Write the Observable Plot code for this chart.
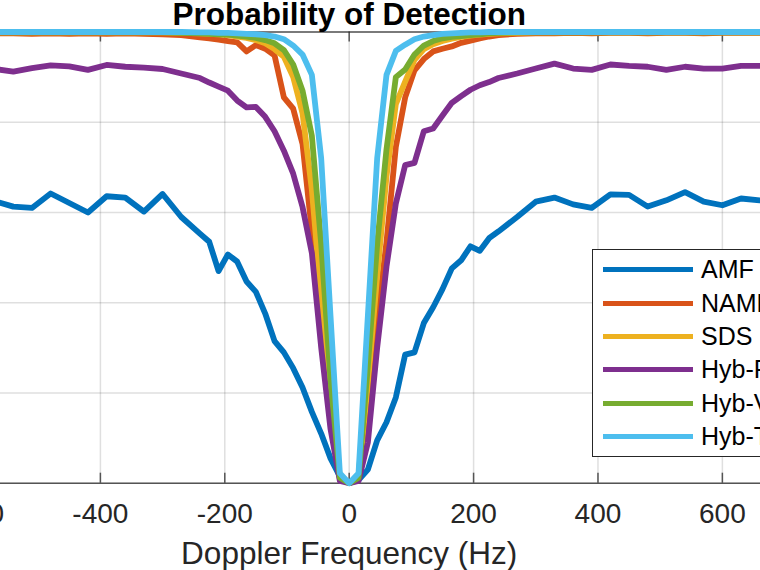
<!DOCTYPE html>
<html>
<head>
<meta charset="utf-8">
<script src="https://cdn.jsdelivr.net/npm/d3@7"></script>
<script src="https://cdn.jsdelivr.net/npm/@observablehq/plot@0.6"></script>
<style>
  body { margin: 0; background: #fff; }
  #chart { position: relative; width: 760px; height: 570px; overflow: hidden;
           font-family: "Liberation Sans", Arial, Helvetica, sans-serif; }
  #legend { position: absolute; left: 592px; top: 249px; width: 240px; height: 208px;
            box-sizing: border-box; border: 1.3px solid #262626; background: #fff; padding-top: 3px; }
  .row { display: flex; align-items: center; height: 33.4px; }
  .swatch { margin-left: 10px; width: 90px; height: 5px; flex: none; }
  .label { margin-left: 8px; font-size: 25px; line-height: 1; color: #000; white-space: nowrap; }
</style>
</head>
<body>
<div id="chart"></div>
<script>
// Doppler frequency grid (Hz)
const freqs = [-570,-540,-510,-480,-450,-420,-390,-360,-330,-300,-270,-240,
  -225,-210,-195,-180,-165,-150,-135,-120,-105,-90,-75,-60,-45,-30,-15,
  0,
  15,30,45,60,75,90,105,120,135,150,165,180,195,210,225,
  240,270,300,330,360,390,420,450,480,510,540,570,600,630,660,690];

// Probability of detection per detector
const amf = [0.625,0.613,0.610,0.642,0.621,0.600,0.636,0.633,0.602,0.641,0.590,0.553,
  0.535,0.470,0.507,0.491,0.447,0.424,0.376,0.315,0.290,0.255,0.212,0.158,0.110,0.055,0.015,
  0,
  0.007,0.030,0.095,0.135,0.190,0.285,0.290,0.355,0.390,0.430,0.476,0.494,0.525,0.515,0.543,
  0.558,0.590,0.624,0.633,0.618,0.610,0.640,0.639,0.613,0.627,0.645,0.624,0.616,0.631,0.627,0.628];

const namf = [0.997,0.997,0.996,0.997,0.996,0.997,0.996,0.997,0.996,0.995,0.993,0.988,
  0.986,0.983,0.980,0.977,0.957,0.971,0.963,0.948,0.855,0.830,0.752,0.558,0.360,0.160,0.010,
  0,
  0.010,0.180,0.360,0.535,0.745,0.855,0.915,0.940,0.957,0.963,0.968,0.976,0.981,0.986,0.990,
  0.993,0.996,0.997,0.997,0.998,0.997,0.998,0.998,0.997,0.998,0.998,0.997,0.998,0.998,0.998,0.998];

const sds = [0.999,0.999,0.999,0.999,0.999,0.999,0.999,0.999,0.999,0.999,0.998,0.997,
  0.996,0.995,0.993,0.990,0.987,0.982,0.975,0.962,0.945,0.900,0.820,0.650,0.410,0.190,0.010,
  0,
  0.010,0.220,0.460,0.680,0.840,0.890,0.938,0.962,0.973,0.980,0.985,0.989,0.992,0.994,0.996,
  0.997,0.998,0.999,0.999,0.999,0.999,0.999,0.999,0.999,0.999,0.999,0.999,0.999,0.999,0.999,0.999];

const hybP = [0.918,0.912,0.920,0.926,0.924,0.916,0.927,0.923,0.921,0.918,0.908,0.898,
  0.888,0.879,0.870,0.848,0.833,0.834,0.812,0.780,0.737,0.686,0.612,0.510,0.300,0.120,0.005,
  0,
  0.005,0.090,0.300,0.480,0.620,0.705,0.710,0.780,0.786,0.815,0.843,0.858,0.872,0.882,0.889,
  0.898,0.908,0.919,0.930,0.919,0.916,0.928,0.925,0.923,0.916,0.923,0.919,0.919,0.925,0.925,0.925];

const hybV = [0.999,0.999,0.999,0.999,0.999,0.999,0.999,0.999,0.999,0.999,0.998,0.997,
  0.996,0.995,0.994,0.992,0.990,0.987,0.982,0.975,0.960,0.928,0.870,0.770,0.530,0.230,0.012,
  0,
  0.012,0.260,0.530,0.740,0.900,0.917,0.950,0.970,0.980,0.986,0.989,0.991,0.993,0.995,0.997,
  0.998,0.999,0.999,0.999,0.999,0.999,0.999,0.999,0.999,0.999,0.999,0.999,0.999,0.999,0.999,0.999];

const hybT = [1,1,1,1,1,1,1,1,1,1,1,0.999,
  0.999,0.998,0.998,0.997,0.996,0.995,0.993,0.990,0.984,0.970,0.950,0.905,0.720,0.370,0.022,
  0,
  0.022,0.370,0.720,0.905,0.958,0.972,0.984,0.990,0.993,0.996,0.997,0.998,0.999,0.999,1,
  1,1,1,1,1,1,1,1,1,1,1,1,1,1,1,1];

const seriesNames = ["AMF", "NAMF", "SDS", "Hyb-P", "Hyb-V", "Hyb-T"];
const seriesValues = [amf, namf, sds, hybP, hybV, hybT];
const seriesColors = ["#0072BD", "#D95319", "#EDB120", "#7E2F8E", "#77AC30", "#4DBEEE"];

const xTicks = [-600, -400, -200, 0, 200, 400, 600];
const yTicks = [0, 0.2, 0.4, 0.6, 0.8, 1];
const xView = [-560.6, 661.3];   // visible frequency window
const titleText = "Probability of Detection";
const xLabelText = "Doppler Frequency (Hz)";

// long-format table for the line mark
const rows = [];
seriesNames.forEach((name, i) =>
  seriesValues[i].forEach((p, j) => rows.push({f: freqs[j], p, series: name})));

const tickLen = 10 / 451;   // inward tick length as a fraction of the y span
const axisColor = "#262626";

const plot = Plot.plot({
  width: 760,
  height: 570,
  marginLeft: 0,
  marginRight: 0,
  marginTop: 31.5,
  marginBottom: 87.3,
  x: {domain: xView},
  y: {domain: [0, 1], axis: null},
  color: {domain: seriesNames, range: seriesColors},
  style: {
    fontFamily: "'Liberation Sans', Arial, Helvetica, sans-serif",
    color: axisColor,
    background: "transparent"
  },
  marks: [
    Plot.gridX(xTicks, {stroke: axisColor, strokeOpacity: 0.15, strokeWidth: 1.5}),
    Plot.gridY(yTicks, {stroke: axisColor, strokeOpacity: 0.15, strokeWidth: 1.5}),
    Plot.ruleY([0, 1], {stroke: axisColor, strokeOpacity: 0.75, strokeWidth: 1.5}),
    Plot.ruleX(xTicks, {x: d => d, y1: 0, y2: tickLen, stroke: axisColor, strokeOpacity: 0.75, strokeWidth: 1.5}),
    Plot.ruleX(xTicks, {x: d => d, y1: 1, y2: 1 - tickLen, stroke: axisColor, strokeOpacity: 0.75, strokeWidth: 1.5}),
    Plot.axisX(xTicks, {
      anchor: "bottom", tickSize: 0, tickPadding: 20,
      tickFormat: d => String(d), fontSize: 28, label: null, fill: axisColor
    }),
    Plot.line(rows, {
      x: "f", y: "p", z: "series", stroke: "series",
      strokeWidth: 5.8, strokeLinejoin: "round", strokeLinecap: "round"
    }),
    Plot.text([titleText], {
      x: () => 0, y: () => 1, text: d => d, dy: -7.5,
      lineAnchor: "bottom", fontSize: 31.5, fontWeight: "bold", fill: "#000"
    }),
    Plot.text([xLabelText], {
      x: () => 0, y: () => 0, text: d => d, dy: 80.6,
      lineAnchor: "bottom", fontSize: 31.5, fill: axisColor
    })
  ]
});

const chart = document.getElementById("chart");
chart.appendChild(plot);

// legend box
const legend = document.createElement("div");
legend.id = "legend";
seriesNames.forEach((name, i) => {
  const row = document.createElement("div");
  row.className = "row";
  const sw = document.createElement("span");
  sw.className = "swatch";
  sw.style.background = seriesColors[i];
  const lab = document.createElement("span");
  lab.className = "label";
  lab.textContent = name;
  row.appendChild(sw);
  row.appendChild(lab);
  legend.appendChild(row);
});
chart.appendChild(legend);
</script>
</body>
</html>
